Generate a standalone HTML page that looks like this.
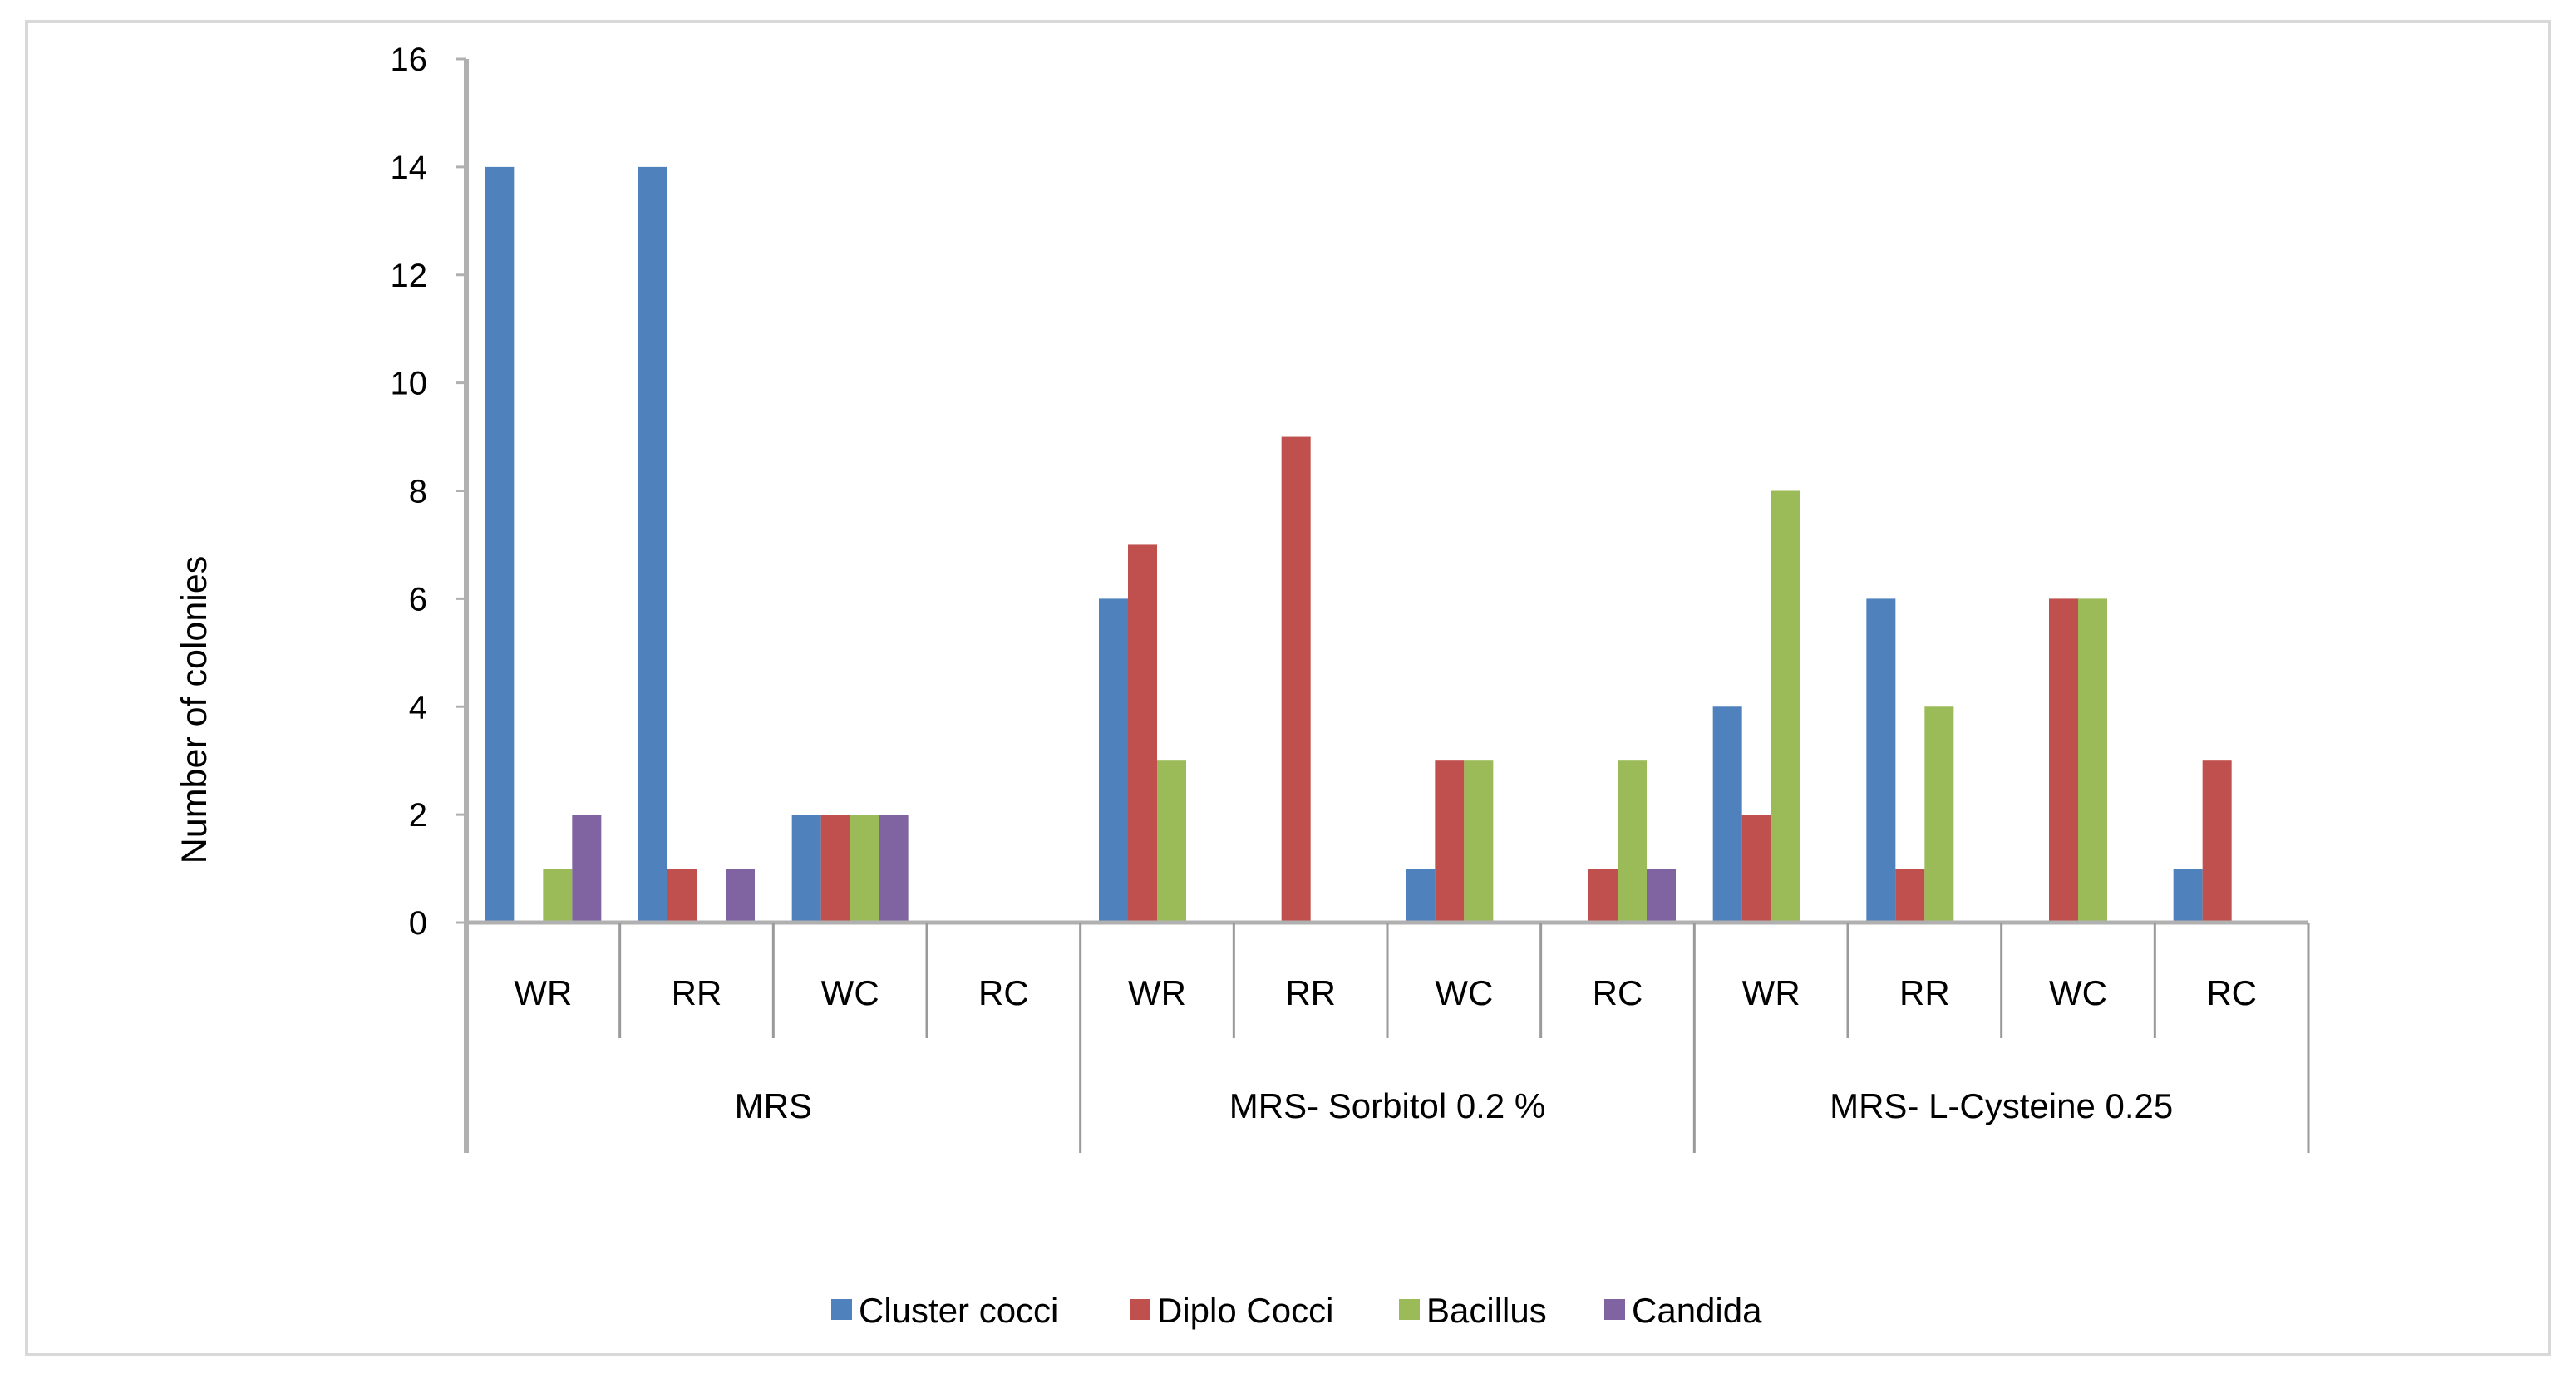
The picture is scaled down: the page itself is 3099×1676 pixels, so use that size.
<!DOCTYPE html>
<html><head><meta charset="utf-8"><style>
html,body{margin:0;padding:0;background:#fff}
svg{display:block;font-family:"Liberation Sans","DejaVu Sans",sans-serif}
</style></head><body>
<svg id="chart" width="3099" height="1676" viewBox="0 0 3099 1676" xmlns="http://www.w3.org/2000/svg">
<rect x="32" y="26" width="3035" height="1604" fill="#fff" stroke="#d9d9d9" stroke-width="4"/>
<g id="plot"></g>
</svg>
<script>
const groups = ["MRS", "MRS- Sorbitol 0.2 %", "MRS- L-Cysteine 0.25"];
const categories = ["WR","RR","WC","RC"];
const seriesNames = ["Cluster cocci","Diplo Cocci","Bacillus","Candida"];
const clusterCocci = [14,14,2,0, 6,0,1,0, 4,6,0,1];
const diploCocci   = [0,1,2,0,  7,9,3,1, 2,1,6,3];
const bacillus     = [1,0,2,0,  3,0,3,3, 8,4,6,0];
const candida      = [2,1,2,0,  0,0,0,1, 0,0,0,0];
const yTicks = [0,2,4,6,8,10,12,14,16];

const series = [clusterCocci, diploCocci, bacillus, candida];
const colors = ["#4F81BD","#C0504D","#9BBB59","#8064A2"];
const NS = "http://www.w3.org/2000/svg";
const g = document.getElementById('plot');
const X0 = 561, X1 = 2777, Y0 = 1110, YT = 71, YMAX = 16;
const nCat = groups.length * categories.length;
const cw = (X1 - X0) / nCat;
const bw = 35;
function y(v){ return Y0 - v / YMAX * (Y0 - YT); }
function x(i){ return X0 + i * cw; }
function mk(tag, attrs, parent){ const e = document.createElementNS(NS, tag); for (const k in attrs) e.setAttribute(k, attrs[k]); (parent||g).appendChild(e); return e; }

yTicks.forEach(t => {
  const tl = mk('line', {x1:X0-12, x2:X0, y1:y(t), y2:y(t), stroke:'#b0b0b0', 'stroke-width':3});
  
  
  const tx = mk('text', {x:514, y:y(t)+14, 'text-anchor':'end', 'font-size':40, fill:'#000'});
  tx.textContent = t;
  
  
});

for (let i = 0; i < nCat; i++) {
  const start = x(i) + (cw - bw * 4) / 2;
  series.forEach((s, k) => {
    const v = s[i];
    if (v <= 0) return;
    const r = mk('rect', {x:start + k*bw, y:y(v), width:bw, height:Y0 - y(v), fill:colors[k]});
    
    
  });
}

const ya = mk('line', {x1:X0, x2:X0, y1:YT, y2:1387, stroke:'#b0b0b0', 'stroke-width':6});


const xa = mk('line', {x1:X0, x2:X1, y1:Y0, y2:Y0, stroke:'#b0b0b0', 'stroke-width':5});



for (let i = 1; i <= nCat; i++) {
  const isGroup = (i % categories.length === 0);
  const sep = mk('line', {x1:x(i), x2:x(i), y1:Y0, y2:isGroup ? 1387 : 1249, stroke:'#9a9a9a', 'stroke-width':3});
  
  
}
for (let i = 0; i < nCat; i++) {
  const t = mk('text', {x:x(i)+cw/2, y:1209, 'text-anchor':'middle', 'font-size':42, fill:'#000'});
  t.textContent = categories[i % categories.length];
  
  
}
groups.forEach((gn, j) => {
  const cx = x(j*4) + cw*2;
  const t = mk('text', {x:cx, y:1345, 'text-anchor':'middle', 'font-size':42, fill:'#000'});
  t.textContent = gn;
  
  
});

const yt = mk('text', {x:0, y:0, 'text-anchor':'middle', 'font-size':43, fill:'#000', transform:'translate(248,854) rotate(-90)'});
yt.textContent = 'Number of colonies';



const legX = [1000, 1359, 1683, 1930];
seriesNames.forEach((n, k) => {
  const lg = mk('g', {});
  
  
  mk('rect', {x:legX[k], y:1563, width:25, height:25, fill:colors[k]}, lg);
  const t = mk('text', {x:legX[k]+33, y:1591, 'font-size':42, fill:'#000'}, lg);
  t.textContent = n;
});
</script>
</body></html>
